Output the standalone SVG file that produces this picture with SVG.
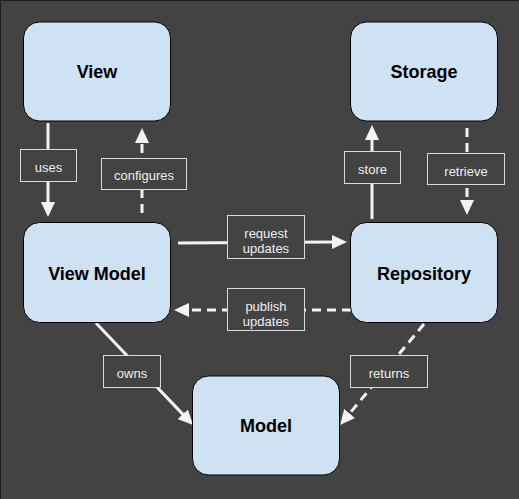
<svg xmlns="http://www.w3.org/2000/svg" width="519" height="499" viewBox="0 0 519 499">
<defs>
<marker id="ah" markerUnits="userSpaceOnUse" viewBox="0 0 15 14" markerWidth="15" markerHeight="14" refX="1" refY="7" orient="auto">
<path d="M0,0 L15,7 L0,14 z" fill="#f3f3f3"/>
</marker>
<style>
.node rect{fill:#cfe2f3;stroke:#000;stroke-width:1}
.node text{font-family:"Liberation Sans",Arial,sans-serif;font-weight:bold;font-size:18px;fill:#000;text-anchor:middle}
.c{stroke:#f3f3f3;stroke-width:3;fill:none;marker-end:url(#ah)}
.d{stroke-dasharray:9 6}
.lb rect{fill:#434343;stroke:#d9d9d9;stroke-width:1}
.lb text{font-family:"Liberation Sans",Arial,sans-serif;font-size:13px;fill:#eeeeee;text-anchor:middle}
</style>
</defs>
<rect x="0" y="0" width="519" height="499" fill="#434343"/>
<path d="M0.5,499 V0.5 H519" fill="none" stroke="#1e1e1e" stroke-width="1"/>

<g id="connectors">
<line class="c" x1="48" y1="123" x2="48" y2="203"/>
<line class="c d" x1="142" y1="213" x2="142" y2="142"/>
<line class="c" x1="372" y1="219" x2="372" y2="139"/>
<line class="c d" x1="467" y1="128" x2="467" y2="201"/>
<line class="c" x1="178" y1="243" x2="333" y2="242"/>
<line class="c d" x1="351" y1="310" x2="188" y2="310"/>
<line class="c" x1="96" y1="323" x2="183.4" y2="414.9"/>
<line class="c d" x1="424" y1="324" x2="349" y2="414.2"/>
<g class="lb">
<rect x="20.5" y="149.5" width="56" height="32"/><text x="48.5" y="171.5">uses</text>
<rect x="101.5" y="158.5" width="85" height="31"/><text x="144" y="179.5">configures</text>
<rect x="344.5" y="151.5" width="56" height="32"/><text x="372.5" y="173.5">store</text>
<rect x="427.5" y="153.5" width="77" height="31"/><text x="466" y="175.5">retrieve</text>
<rect x="227.5" y="215.5" width="77" height="43"/><text x="266" y="237.5">request</text><text x="266" y="253">updates</text>
<rect x="227.5" y="288.5" width="77" height="42"/><text x="266" y="310.5">publish</text><text x="266" y="326">updates</text>
<rect x="103.5" y="355.5" width="57" height="32"/><text x="132" y="378">owns</text>
<rect x="350.5" y="355.5" width="77" height="32"/><text x="389" y="378">returns</text>
</g>
</g>

<g id="view" class="node"><rect x="23.5" y="22" width="147" height="99" rx="16"/><text x="97" y="78">View</text></g>
<g id="storage" class="node"><rect x="350.5" y="22" width="147" height="99" rx="16"/><text x="424" y="78">Storage</text></g>
<g id="viewmodel" class="node"><rect x="23.5" y="222.5" width="147" height="100" rx="16"/><text x="97" y="280">View Model</text></g>
<g id="repository" class="node"><rect x="350.5" y="222.5" width="147" height="100" rx="16"/><text x="424" y="280">Repository</text></g>
<g id="model" class="node"><rect x="192.5" y="376" width="147" height="99" rx="16"/><text x="266" y="432">Model</text></g>
</svg>
